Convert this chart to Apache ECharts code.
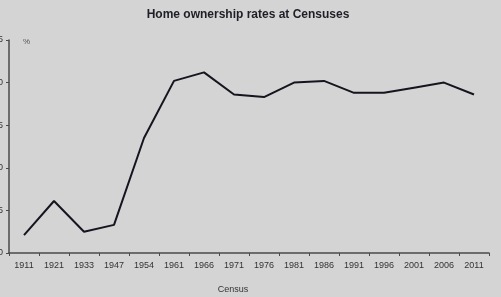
<!DOCTYPE html>
<html><head><meta charset="utf-8">
<script src="https://cdn.jsdelivr.net/npm/echarts@6/dist/echarts.min.js"></script>
<style>html,body{margin:0;padding:0;background:#d4d4d4;}#c{width:501px;height:297px;}</style>
</head><body><div id="c"></div>
<script>
const censusYears = ['1911','1921','1933','1947','1954','1961','1966','1971','1976','1981','1986','1991','1996','2001','2006','2011'];
const ownershipRate = [52.1, 56.1, 52.5, 53.3, 63.5, 70.2, 71.2, 68.6, 68.3, 70.0, 70.2, 68.8, 68.8, 69.4, 70.0, 68.6];
const yTicks = {min: 50, max: 75, interval: 5};

const chart = echarts.init(document.getElementById('c'), null, {renderer: 'canvas'});
chart.setOption({
  backgroundColor: '#d4d4d4',
  animation: false,
  title: [
    {text: 'Home ownership rates at Censuses', left: 243, top: 4, textAlign: 'center',
     textStyle: {fontFamily: 'Liberation Sans', fontWeight: 'bold', fontSize: 12, color: '#1e1e28'}},
    {text: '%', left: 18, top: 33, textStyle: {fontFamily: 'Liberation Sans', fontWeight: 'normal', fontSize: 8, color: '#555'}},
    {text: 'Census', left: 228, top: 280, textAlign: 'center',
     textStyle: {fontFamily: 'Liberation Sans', fontWeight: 'normal', fontSize: 9, color: '#333'}}
  ],
  grid: {left: 9, right: 12, top: 40, bottom: 44, containLabel: false, outerBoundsMode: 'none'},
  xAxis: {
    type: 'category', data: censusYears, boundaryGap: true,
    axisLine: {lineStyle: {color: '#4a4a4a', width: 1.5}},
    axisTick: {show: true, length: 3, inside: false, alignWithLabel: false, lineStyle: {color: '#4a4a4a'}},
    axisLabel: {margin: 8, fontSize: 9, color: '#333', fontFamily: 'Liberation Sans', interval: 0}
  },
  yAxis: {
    type: 'value', min: yTicks.min, max: yTicks.max, interval: yTicks.interval,
    splitLine: {show: false},
    axisLine: {show: true, lineStyle: {color: '#4a4a4a', width: 1.5}},
    axisTick: {show: true, length: 3, lineStyle: {color: '#4a4a4a'}},
    axisLabel: {margin: 6, fontSize: 9, color: '#333', fontFamily: 'Liberation Sans'}
  },
  series: [{
    type: 'line', data: ownershipRate, symbol: 'none',
    lineStyle: {color: '#15151f', width: 2}
  }]
});
</script></body></html>
